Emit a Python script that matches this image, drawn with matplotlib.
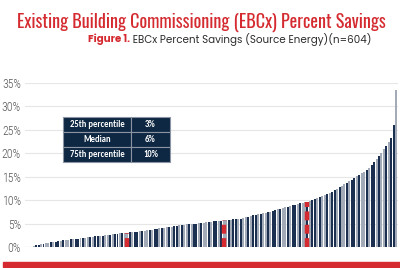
import matplotlib
matplotlib.use("Agg")
import matplotlib.pyplot as plt
from matplotlib.patches import Rectangle
from matplotlib import font_manager as fm

savings = [
    0.0, 0.1, 0.2, 0.4, 0.5, 0.6, 0.7, 0.8, 0.9, 1.0,
    1.0, 1.1, 1.2, 1.3, 1.4, 1.5, 1.5, 1.6, 1.6, 1.7,
    1.8, 1.9, 1.9, 2.0, 2.1, 2.1, 2.2, 2.3, 2.3, 2.4,
    2.4, 2.5, 2.6, 2.6, 2.7, 2.8, 2.8, 2.9, 2.9, 3.0,
    3.0, 3.1, 3.2, 3.2, 3.3, 3.4, 3.4, 3.5, 3.6, 3.6,
    3.7, 3.8, 3.9, 4.0, 4.0, 4.1, 4.2, 4.3, 4.3, 4.4,
    4.5, 4.6, 4.6, 4.7, 4.8, 4.8, 4.9, 5.0, 5.0, 5.1,
    5.2, 5.2, 5.3, 5.4, 5.4, 5.5, 5.5, 5.6, 5.6, 5.7,
    5.7, 5.8, 5.8, 5.9, 5.9, 6.0, 6.0, 6.1, 6.3, 6.5,
    6.6, 6.8, 6.9, 7.0, 7.1, 7.2, 7.3, 7.4, 7.5, 7.7,
    7.8, 8.0, 8.2, 8.3, 8.5, 8.6, 8.8, 8.9, 9.0, 9.2,
    9.3, 9.4, 9.6, 9.7, 9.9, 10.0, 10.2, 10.4, 10.6, 10.8,
    11.1, 11.3, 11.6, 11.8, 12.1, 12.4, 12.8, 13.1, 13.4, 13.7,
    14.1, 14.4, 14.8, 15.1, 15.4, 15.8, 16.1, 16.5, 16.9, 17.5,
    18.1, 18.8, 19.4, 20.1, 20.9, 21.6, 22.4, 23.2, 26.0, 33.5,
]
marker_index = [40, 79, 113]          # bars flagged as 25th / median / 75th
table_labels = ["25th percentile", "Median", "75th percentile"]
table_values = ["3%", "6%", "10%"]
y_ticks = [0, 5, 10, 15, 20, 25, 30, 35]

title = "Existing Building Commissioning (EBCx) Percent Savings"
sub_red = "Figure 1."
sub_rest = " EBCx Percent Savings (Source Energy)(n=604)"

RED = "#d42a30"
NAVY = "#1b2f50"
GRAY = "#a3abb8"
TABLE_BG = "#0e2742"

weights = {}
for f in fm.fontManager.ttflist:
    w = f.weight if isinstance(f.weight, int) else {"normal": 400, "regular": 400,
                                                    "bold": 700}.get(str(f.weight), 400)
    weights.setdefault(f.name, set()).add(w)

def pick(cands, need=(400,)):
    for c in cands:
        ws = weights.get(c)
        if ws and all(any(abs(w - n) <= 50 for w in ws) for n in need):
            return c
    return "DejaVu Sans"

f_title = pick(["Oswald", "Fjalla One", "Antonio", "Roboto Condensed",
                "Liberation Sans Narrow"], need=(600,))
if f_title == "DejaVu Sans":
    f_title = pick(["Oswald", "Fjalla One", "Roboto Condensed"], need=(400,))
f_tick = pick(["Oswald", "Antonio", "Roboto Condensed", "Liberation Sans Narrow"],
              need=(300,))
if f_tick == "DejaVu Sans":
    f_tick = f_title
f_sub = pick(["Poppins", "Montserrat", "Nunito Sans", "Lato", "Roboto"],
             need=(400, 700))
f_tab = pick(["Carlito", "Roboto", "Open Sans"], need=(700,))

fig = plt.figure(figsize=(4.0, 2.68), dpi=100)
ax = fig.add_axes([0.0625, 0.0784, 0.9325, 0.612])

n = len(savings)
x = list(range(n))
pattern = [GRAY, NAVY, GRAY, NAVY, NAVY, GRAY, NAVY, GRAY]
colors = [pattern[i % len(pattern)] for i in x]
ax.bar(x, savings, width=0.8, color=colors, linewidth=0, zorder=2)

for idx in marker_index:
    ax.plot([idx, idx], [0, savings[idx]], color=RED, lw=3.2,
            dashes=(2.0, 1.0), solid_capstyle="butt", zorder=3)

ax.set_xlim(-1.5, n - 0.3)
ax.set_ylim(0, 35)
ax.set_yticks(y_ticks)
ax.set_yticklabels([f"{t}%" for t in y_ticks], fontfamily=f_tick,
                   fontweight=300, fontsize=8.5, color="#555555")
ax.tick_params(axis="y", length=0, pad=3)
ax.set_xticks([])
ax.grid(axis="y", color="#e6e6e6", lw=0.8, zorder=0)
for s in ax.spines.values():
    s.set_visible(False)
ax.axhline(0, color="#d0d0d0", lw=0.8, zorder=1)

# summary table
tbl = ax.table(cellText=[[l, v] for l, v in zip(table_labels, table_values)],
               cellLoc="center", colWidths=[0.635, 0.365],
               bbox=[0.102, 18.1 / 35, 0.287, (27.7 - 18.1) / 35])
tbl.auto_set_font_size(False)
for (r, c), cell in tbl.get_celld().items():
    cell.set_facecolor(TABLE_BG)
    cell.set_edgecolor("#8a94a3")
    cell.set_linewidth(0.8)
    cell.PAD = 0.02
    cell.get_text().set_color("white")
    cell.get_text().set_fontweight(700)
    cell.get_text().set_fontsize(6.2)
    cell.get_text().set_fontfamily(f_tab)
tbl.set_zorder(5)

# bottom red band
fig.patches.append(Rectangle((0.0075, 0.004), 0.9925, 0.019,
                             transform=fig.transFigure, color=RED, zorder=0))

# titles, fitted to the reference widths
fig.canvas.draw()
r = fig.canvas.get_renderer()
t1 = fig.text(201 / 400, 1 - 22 / 268, title, ha="center", va="center",
              color=RED, fontfamily=f_title, fontweight=600, fontsize=12)
w = t1.get_window_extent(r).width
t1.set_fontsize(12 * 368 / w)

sa = fig.text(0, 1 - 39.5 / 268, sub_red, ha="left", va="center",
              color=RED, fontfamily=f_sub, fontweight="bold", fontsize=9)
sb = fig.text(0, 1 - 39.5 / 268, sub_rest, ha="left", va="center",
              color="#2b2b2b", fontfamily=f_sub, fontweight="normal", fontsize=9)
wa = sa.get_window_extent(r).width
wb = sb.get_window_extent(r).width
scale = 284 / (wa + wb)
sa.set_fontsize(9 * scale)
sb.set_fontsize(9 * scale)
wa = sa.get_window_extent(r).width
wb = sb.get_window_extent(r).width
x0 = (230 - (wa + wb) / 2) / 400
sa.set_x(x0)
sb.set_x(x0 + wa / 400)

fig.savefig("out.png", dpi=100)
